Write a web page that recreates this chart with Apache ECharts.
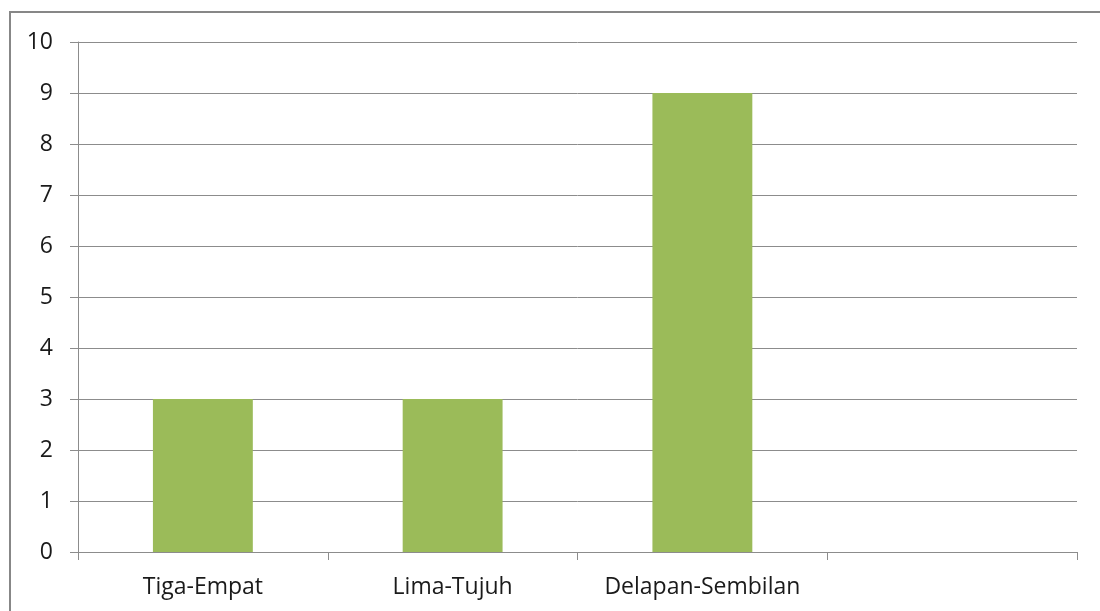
<!DOCTYPE html>
<html>
<head>
<meta charset="utf-8">
<script src="https://cdn.jsdelivr.net/npm/echarts@6/dist/echarts.min.js"></script>
<style>
  html, body { margin: 0; padding: 0; background: #fff; }
  #chart { width: 1100px; height: 611px; }
</style>
</head>
<body>
<div id="chart"></div>
<script>
"use strict";
// categories on the x axis (the last slot is empty in the original)
const categories = ['Tiga-Empat', 'Lima-Tujuh', 'Delapan-Sembilan', ''];
// bar values
const values = [3, 3, 9, null];
// y axis range
const yMin = 0;
const yMax = 10;
const yStep = 1;

const gridColor = '#8c8c8c';
const labelFont = 'Open Sans';

const myChart = echarts.init(document.getElementById('chart'));

const option = {
  animation: false,
  backgroundColor: '#fff',
  graphic: [
    {
      type: 'rect',
      shape: { x: 10, y: 12, width: 1200, height: 700 },
      style: { fill: 'none', stroke: '#878787', lineWidth: 2 },
      silent: true
    }
  ],
  grid: { left: 78, right: 23, top: 42, bottom: 59, containLabel: false },
  xAxis: {
    type: 'category',
    data: categories,
    boundaryGap: true,
    axisLine: { show: true, lineStyle: { color: gridColor, width: 1 } },
    axisTick: { show: true, length: 8, lineStyle: { color: gridColor } },
    axisLabel: { color: '#1a1a1a', fontFamily: labelFont, fontSize: 23, margin: 24, interval: 0 }
  },
  yAxis: {
    type: 'value',
    min: yMin,
    max: yMax,
    interval: yStep,
    axisLine: { show: true, lineStyle: { color: gridColor, width: 1 } },
    axisTick: { show: true, length: 8, lineStyle: { color: gridColor } },
    axisLabel: { color: '#1a1a1a', fontFamily: labelFont, fontSize: 23, margin: 25 },
    splitLine: { show: true, lineStyle: { color: gridColor, width: 1 } }
  },
  series: [
    {
      type: 'bar',
      data: values,
      barWidth: '40%',
      itemStyle: { color: '#9bbb59' }
    }
  ]
};

myChart.setOption(option);
</script>
</body>
</html>
